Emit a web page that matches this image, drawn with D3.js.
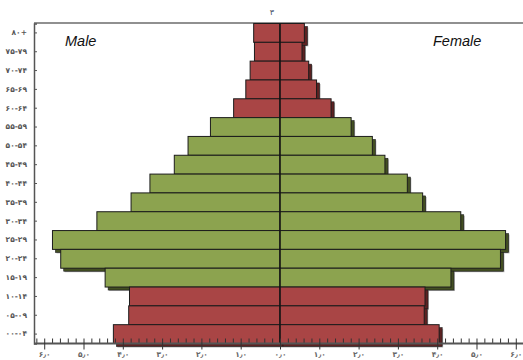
<!DOCTYPE html>
<html><head><meta charset="utf-8">
<script src="https://cdn.jsdelivr.net/npm/d3@7"></script>
<style>body{margin:0;background:#fff}svg{display:block}</style></head>
<body>
<svg id="chart" width="523" height="360"></svg>
<script>
// ---- data (top row first) ----
const ageGroups = ["۸۰+","۷۵-۷۹","۷۰-۷۴","۶۵-۶۹","۶۰-۶۴","۵۵-۵۹","۵۰-۵۴","۴۵-۴۹","۴۰-۴۴","۳۵-۳۹","۳۰-۳۴","۲۵-۲۹","۲۰-۲۴","۱۵-۱۹","۱۰-۱۴","۰۵-۰۹","۰۰-۰۴"];
const maleValues   = [0.67,0.65,0.76,0.87,1.18,1.77,2.34,2.69,3.31,3.79,4.66,5.79,5.58,4.45,3.83,3.85,4.24];
const femaleValues = [0.62,0.56,0.73,0.93,1.30,1.81,2.35,2.67,3.24,3.63,4.60,5.74,5.61,4.35,3.69,3.67,4.05];
const groupType    = ["dep","dep","dep","dep","dep","work","work","work","work","work","work","work","work","work","dep","dep","dep"];
const xMajorTicks  = [-6,-5,-4,-3,-2,-1,0,1,2,3,4,5,6];
const xTickLabels  = ["۶٫۰","۵٫۰","۴٫۰","۳٫۰","۲٫۰","۱٫۰","۰٫۰","۱٫۰","۲٫۰","۳٫۰","۴٫۰","۵٫۰","۶٫۰"];
const chartTitle = "۳";
const seriesNames = ["Male","Female"];

const fills   = {dep:"#a94545", work:"#8ca34f"};
const shadows = {dep:"#5c2222", work:"#434f22"};

const svg = d3.select("#chart");
const pLeft = 34, pTop = 23.5, pBottom = 343.5;
const x = d3.scaleLinear().domain([-6.26, 6.26]).range([pLeft, 526]);
const y = d3.scaleBand().domain(ageGroups).range([pTop, pBottom]).padding(0);

const rows = ageGroups.map((g,i)=>({g, m:maleValues[i], f:femaleValues[i], t:groupType[i]}));

// top border
svg.append("line").attr("x1",pLeft).attr("x2",523).attr("y1",pTop-0.5).attr("y2",pTop-0.5)
  .attr("stroke","#6b6b6b").attr("stroke-width",1.5);

// title
svg.append("text").attr("x",272).attr("y",15).attr("text-anchor","middle")
  .attr("font-family","DejaVu Sans").attr("font-size",8).attr("fill","#3a4660").text(chartTitle);

const segs = [];
rows.forEach(r=>{
  segs.push({x0:x(-r.m), x1:x(0), y0:y(r.g), h:y.bandwidth(), t:r.t});
  segs.push({x0:x(0), x1:x(r.f), y0:y(r.g), h:y.bandwidth(), t:r.t});
});

const gBars = svg.append("g");
gBars.selectAll("rect.halo").data(segs).join("rect").attr("class","halo")
  .attr("x",d=>d.x0+4).attr("y",d=>d.y0+4).attr("width",d=>d.x1-d.x0).attr("height",d=>d.h)
  .attr("fill","#b5b5b5");
gBars.selectAll("rect.sh").data(segs).join("rect").attr("class","sh")
  .attr("x",d=>d.x0+3).attr("y",d=>d.y0+3).attr("width",d=>d.x1-d.x0).attr("height",d=>d.h)
  .attr("fill",d=>shadows[d.t]).attr("stroke","#1a1a1a").attr("stroke-width",0.6);
gBars.selectAll("rect.bar").data(segs).join("rect").attr("class","bar")
  .attr("x",d=>d.x0).attr("y",d=>d.y0).attr("width",d=>d.x1-d.x0).attr("height",d=>d.h)
  .attr("fill",d=>fills[d.t]).attr("stroke","#1c1c1c").attr("stroke-width",1);

// center line
svg.append("line").attr("x1",x(0)).attr("x2",x(0)).attr("y1",pTop).attr("y2",pBottom)
  .attr("stroke","#111").attr("stroke-width",1.2);

// y axis
const yAxis = svg.append("g").attr("transform",`translate(${pLeft},0)`)
  .call(d3.axisLeft(y).tickSize(-3).tickPadding(7));
yAxis.select(".domain").attr("stroke","#555").attr("stroke-width",1.5);
yAxis.selectAll(".tick line").attr("stroke","#555");
yAxis.selectAll("text").attr("font-family","DejaVu Sans").attr("font-size",7.5)
  .attr("font-weight","bold").attr("fill","#555").style("direction","ltr");

// x axis minor ticks
const minor = d3.range(-31,32).filter(i=>i%5!==0).map(i=>i*0.2);
const xMinor = svg.append("g").attr("transform",`translate(0,${pBottom})`)
  .call(d3.axisTop(x).tickValues(minor).tickSize(5).tickFormat(""));
xMinor.select(".domain").remove();
xMinor.selectAll(".tick line").attr("stroke","#333");

// x axis major
const xAxis = svg.append("g").attr("transform",`translate(0,${pBottom})`)
  .call(d3.axisBottom(x).tickValues(xMajorTicks).tickSize(6).tickPadding(2)
    .tickFormat((d,i)=>xTickLabels[i]));
xAxis.select(".domain").attr("d",`M${pLeft},0H523`).attr("stroke","#555").attr("stroke-width",1.8);
xAxis.selectAll(".tick line").attr("y1",-5).attr("stroke","#333");
xAxis.selectAll("text").attr("font-family","DejaVu Sans").attr("font-size",7.5)
  .attr("font-weight","bold").attr("fill","#666");

// series names
svg.append("text").attr("x",65).attr("y",46).attr("font-family","Liberation Sans")
  .attr("font-style","italic").attr("font-size",14.5).attr("fill","#111").text(seriesNames[0]);
svg.append("text").attr("x",433).attr("y",46).attr("font-family","Liberation Sans")
  .attr("font-style","italic").attr("font-size",14.5).attr("fill","#111").text(seriesNames[1]);
</script>
</body></html>
